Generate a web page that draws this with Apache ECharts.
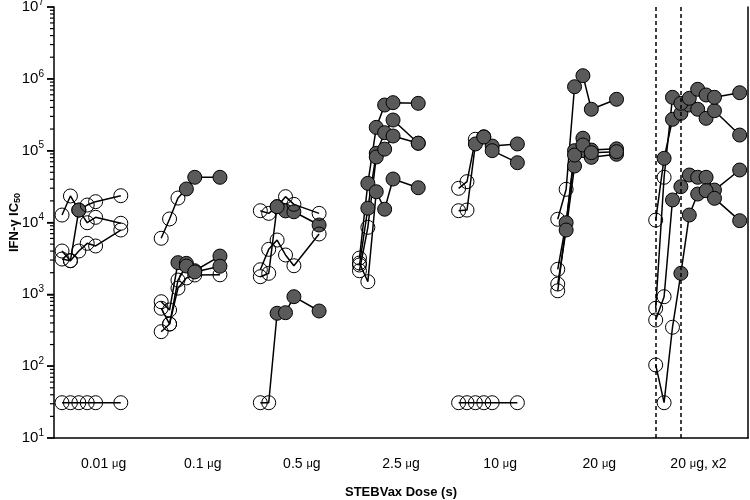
<!DOCTYPE html>
<html>
<head>
<meta charset="utf-8">
<script src="https://cdn.jsdelivr.net/npm/echarts@6/dist/echarts.min.js"></script>
<style>
  html, body { margin: 0; padding: 0; background: #fff; }
  #chart { width: 750px; height: 500px; }
</style>
</head>
<body>
<div id="chart"></div>
<script>
// dose groups on the x axis
const doseLabels = ['0.01', '0.1', '0.5', '2.5', '10', '20', '20'];
// study days of each sample (single dose groups / boosted group)
const days = [0, 7, 14, 21, 28, 49];
const daysBoost = [0, 7, 14, 21, 28, 35, 42, 49, 70];
const boostDays = [0, 21];

// IFN-gamma IC50 per subject, one row per subject; *_f = 1 when the point is filled
const dose001 = [
    [12700, 23400, 14900, 9930, 11800, 9750],
    [3100, 2940, 14900, 17500, 19500, 23600],
    [4010, 2940, 4010, 5130, 4710, 7860],
    [31, 31, 31, 31, 31, 31]
];
const dose001_f = [[0,0,1,0,0,0], [0,0,1,0,0,0], [0,0,0,0,0,0], [0,0,0,0,0,0]];

const dose01 = [
    [6030, 11200, 21900, 29300, 42600, 42600],
    [789, 605, 2760, 2700, 2130, 3410],
    [640, 386, 1220, 1690, 1860, 1870],
    [302, 386, 1580, 2480, 2050, 2460]
];
const dose01_f = [[0,0,0,1,1,1], [0,0,1,1,1,1], [0,0,0,0,0,0], [0,0,0,1,1,1]];

const dose05 = [
    [14600, 13400, 16600, 14500, 14100, 9230],
    [1760, 1960, 16600, 22900, 17900, 13400],
    [2200, 4230, 5700, 3530, 2500, 6920],
    [31, 31, 545, 555, 927, 586]
];
const dose05_f = [[0,0,1,1,1,1], [0,0,1,0,0,0], [0,0,0,0,0,0], [0,0,1,1,1,1]];

const dose25 = [
    [3200, 35100, 211000, 432000, 466000, 456000],
    [2560, 15800, 91900, 178000, 267000, 127000],
    [2130, 8570, 81600, 105000, 160000, 127000],
    [2730, 1500, 26800, 15300, 40300, 30500]
];
const dose25_f = [[0,1,1,1,1,1], [0,1,1,1,1,1], [0,0,1,1,1,1], [0,0,1,1,1,1]];

const dose10 = [
    [29900, 37000, 144000, 156000, 116000, 124000],
    [14600, 14900, 124000, 155000, 100000, 68000],
    [31, 31, 31, 31, 31, 31]
];
const dose10_f = [[0,0,0,1,1,1], [0,0,1,1,1,1], [0,0,0,0,0,0]];

const dose20 = [
    [11100, 29000, 777000, 1106000, 377000, 519000],
    [2230, 9930, 100000, 149000, 102000, 106000],
    [1390, 7860, 61100, 100000, 80800, 89000],
    [1120, null, 86900, 120000, 93800, 96800]
];
const dose20_f = [[0,0,1,1,1,1], [0,1,1,1,1,1], [0,1,1,1,1,1], [0,0,1,1,1,1]];

const dose20x2 = [
    [10800, 78300, 273000, 331000, 432000, 377000, 282000, 360000, 165000],
    [640, 42600, 553000, 456000, 536000, 715000, 596000, 553000, 641000],
    [439, 927, 20600, 31500, 45800, 42600, 42600, 28300, 53800],
    [104, 31, 348, 1960, 12700, 24900, 27700, 21700, 10600]
];
const dose20x2_f = [[0,1,1,1,1,1,1,1,1], [0,0,1,1,1,1,1,1,1], [0,0,1,1,1,1,1,1,1], [0,0,0,1,1,1,1,1,1]];

// layout of days inside one dose slot (slot width = 1 on the hidden x axis)
const PAD = 0.081, PAD_BOOST = 0.069, DAY_W = 0.0121;
const GRID_LEFT = 54;

let series = [];

function addGroup(gi, rows, fills, dayList, pad) {
    rows.forEach(function (vals, si) {
        let data = [];
        vals.forEach(function (v, k) {
            if (v == null) return;
            data.push({
                value: [gi + pad + dayList[k] * DAY_W, v],
                itemStyle: { color: fills[si][k] ? '#5a5a5a' : 'rgba(255,255,255,0)' }
            });
        });
        series.push({
            type: 'line',
            xAxisIndex: 1,
            yAxisIndex: 0,
            data: data,
            symbol: 'circle',
            symbolSize: 14,
            showSymbol: true,
            silent: true,
            animation: false,
            lineStyle: { color: '#000', width: 1.5 },
            itemStyle: { borderColor: '#000', borderWidth: 1 }
        });
    });
}

addGroup(0, dose001, dose001_f, days, PAD);
addGroup(1, dose01, dose01_f, days, PAD);
addGroup(2, dose05, dose05_f, days, PAD);
addGroup(3, dose25, dose25_f, days, PAD);
addGroup(4, dose10, dose10_f, days, PAD);
addGroup(5, dose20, dose20_f, days, PAD);
addGroup(6, dose20x2, dose20x2_f, daysBoost, PAD_BOOST);

// dashed lines at the two doses of the boosted group
series.push({
    type: 'line',
    xAxisIndex: 1,
    yAxisIndex: 0,
    data: [],
    silent: true,
    animation: false,
    markLine: {
        silent: true,
        symbol: 'none',
        animation: false,
        label: { show: false },
        lineStyle: { color: '#000', width: 1.5, type: [4, 3] },
        data: boostDays.map(function (d) { return { xAxis: 6 + PAD_BOOST + d * DAY_W }; })
    }
});

let chart = echarts.init(document.getElementById('chart'));

chart.setOption({
    backgroundColor: '#fff',
    animation: false,
    textStyle: { fontFamily: 'Liberation Sans, Arial, sans-serif' },
    grid: { left: GRID_LEFT, right: 2, top: 7, bottom: 62, containLabel: false, outerBoundsMode: 'none' },
    xAxis: [
        {
            type: 'category',
            data: doseLabels,
            boundaryGap: true,
            axisLine: { lineStyle: { color: '#000', width: 1.5 } },
            axisTick: { show: false },
            splitLine: { show: false },
            axisLabel: {
                interval: 0,
                margin: 19,
                color: '#000',
                fontSize: 14,
                formatter: function (v, i) {
                    return v + ' {u|μ}g' + (i === 6 ? ', x2' : '');
                },
                rich: { u: { fontSize: 11, color: '#000' } }
            },
            name: 'STEBVax Dose (s)',
            nameLocation: 'middle',
            nameGap: 48,
            nameMoveOverlap: false,
            nameTextStyle: { color: '#000', fontSize: 13, fontWeight: 'bold' }
        },
        {
            type: 'value',
            min: 0,
            max: 7,
            show: false
        }
    ],
    yAxis: [
        {
            type: 'log',
            logBase: 10,
            min: 10,
            max: 10000000,
            axisLine: { show: true, lineStyle: { color: '#000', width: 1.5 } },
            axisTick: { show: true, inside: false, length: 7, lineStyle: { color: '#000', width: 1.5 } },
            splitLine: { show: false },
            axisLabel: {
                margin: 10,
                color: '#000',
                formatter: function (v) {
                    return '{b|10}{s|' + Math.round(Math.log10(v)) + '}';
                },
                rich: {
                    b: { fontSize: 15, color: '#000' },
                    s: { fontSize: 10, color: '#000', padding: [0, 0, 10, 0] }
                }
            },
            name: '{n|IFN-γ IC}{d|50}',
            nameLocation: 'middle',
            nameRotate: 90,
            nameGap: 32,
            nameMoveOverlap: false,
            nameTextStyle: {
                rich: {
                    n: { fontSize: 13, fontWeight: 'bold', color: '#000' },
                    d: { fontSize: 9, fontWeight: 'bold', color: '#000', padding: [6, 0, 0, 0] }
                }
            }
        },
        {
            type: 'value',
            position: 'right',
            axisLine: { show: true, lineStyle: { color: '#000', width: 1.5 } },
            axisTick: { show: false },
            axisLabel: { show: false },
            splitLine: { show: false }
        }
    ],
    series: series
});

// log ticks on the y axis: decades long, 2..9 x 10^n short; y placed through the log scale
let tickEls = [];
for (let n = 1; n <= 7; n++) {
    for (let k = 1; k < 10; k++) {
        if (n === 7 && k > 1) break;
        let v = k * Math.pow(10, n);
        let y = chart.convertToPixel({ yAxisIndex: 0 }, v);
        if (!isFinite(y)) continue;
        let len = k === 1 ? 7 : 4;
        tickEls.push({
            type: 'line',
            silent: true,
            z: 100,
            shape: { x1: GRID_LEFT - len, y1: y, x2: GRID_LEFT, y2: y },
            style: { stroke: '#000', lineWidth: 1.2 }
        });
    }
}
chart.setOption({ graphic: { elements: tickEls } });
</script>
</body>
</html>
